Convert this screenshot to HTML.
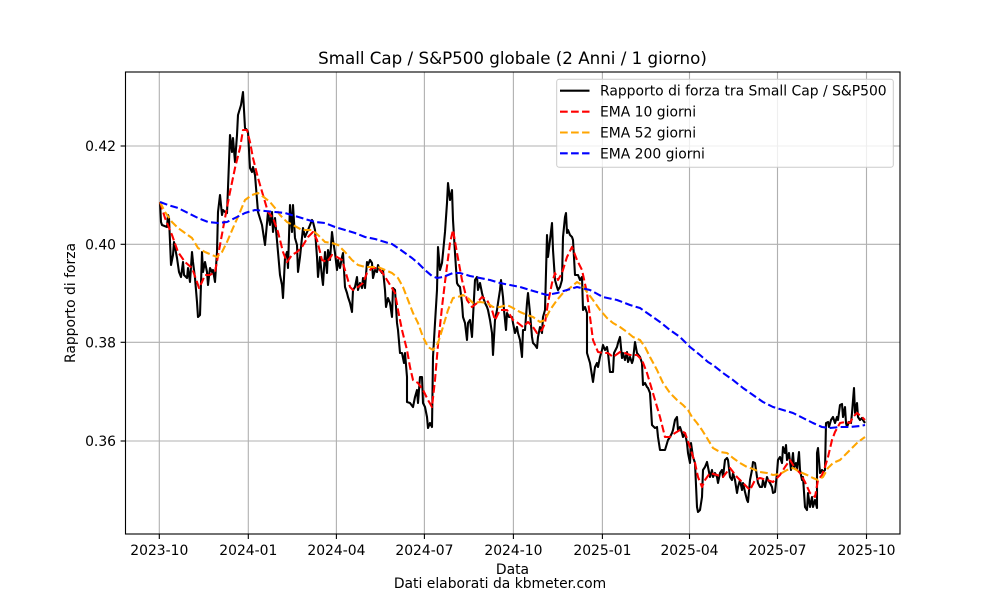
<!DOCTYPE html>
<html>
<head>
<meta charset="utf-8">
<style>
html,body{margin:0;padding:0;background:#fff;}
svg{display:block;}
text{font-family:"DejaVu Sans","Liberation Sans",sans-serif;fill:#000;}
</style>
</head>
<body>
<svg width="1000" height="600" viewBox="0 0 1000 600" xmlns="http://www.w3.org/2000/svg">
<rect x="0" y="0" width="1000" height="600" fill="#fff"/>
<!-- grid -->
<g stroke="#b0b0b0" stroke-width="1.11" fill="none">
<line x1="159.3" y1="72" x2="159.3" y2="534"/>
<line x1="248.3" y1="72" x2="248.3" y2="534"/>
<line x1="336.4" y1="72" x2="336.4" y2="534"/>
<line x1="424.4" y1="72" x2="424.4" y2="534"/>
<line x1="513.4" y1="72" x2="513.4" y2="534"/>
<line x1="602.4" y1="72" x2="602.4" y2="534"/>
<line x1="689.5" y1="72" x2="689.5" y2="534"/>
<line x1="777.5" y1="72" x2="777.5" y2="534"/>
<line x1="866.5" y1="72" x2="866.5" y2="534"/>
<line x1="125.5" y1="146" x2="900" y2="146"/>
<line x1="125.5" y1="244.3" x2="900" y2="244.3"/>
<line x1="125.5" y1="342.3" x2="900" y2="342.3"/>
<line x1="125.5" y1="441" x2="900" y2="441"/>
</g>
<!-- series -->
<g fill="none" stroke-linejoin="round" stroke-width="2.08">
<polyline stroke="#000" points="160,202 161,222 162,225 167,227 168,215 169,218 171,265 173,255 174,242 177,258 179,272 181,277 183,262 184,275 187,278 188,268 190,282 192,252 193,262 195,278 197,302 198,317 200,315 202,252 203,272 205,262 207,272 208,285 210,268 212,272 213,270 215,282 217,252 218,212 220,195 222,215 223,210 225,212 227,213 228,188 230,135 232,152 233,138 235,162 237,135 238,115 241,105 243,92 245,128 247,130 248,132 250,168 252,172 253,167 255,175 258,212 262,225 265,245 268,212 270,225 272,212 273,232 275,218 278,252 280,275 282,285 283,298 285,258 287,252 288,268 290,205 292,232 293,205 295,238 297,245 298,272 300,257 303,228 305,237 308,230 312,220 313,222 315,230 317,257 318,277 320,257 322,277 323,285 325,252 327,273 328,250 330,260 332,232 333,240 335,253 337,270 338,260 340,268 342,257 343,253 345,287 347,293 348,297 350,303 352,312 353,290 355,287 357,277 358,290 360,283 362,288 363,278 365,288 367,262 368,265 370,260 372,263 373,278 375,270 377,272 378,265 380,270 382,273 383,270 385,290 386,307 388,298 390,303 392,317 393,288 395,290 397,323 398,330 400,353 402,353 404,363 405,353 407,377 407,402 410,403 413,407 415,397 417,390 418,403 420,377 422,377 423,403 425,407 427,417 428,428 430,423 432,427 433,357 435,323 437,290 438,247 440,270 442,263 443,253 445,232 447,203 448,183 450,200 452,190 453,220 455,253 457,283 458,285 460,287 462,303 463,317 465,323 467,340 468,323 470,320 472,337 473,317 475,280 477,277 478,290 480,283 482,293 483,297 485,303 487,307 488,310 490,320 492,333 493,355 495,320 497,310 498,303 500,290 501,280 503,297 504,310 506,330 507,313 509,317 512,317 513,323 515,333 517,327 518,333 520,340 522,357 523,330 525,330 527,303 528,293 530,313 532,337 533,343 535,345 537,348 538,337 540,327 542,333 543,317 545,310 547,235 548,257 550,240 552,223 553,250 555,280 557,287 558,290 560,287 562,280 563,237 565,217 566,213 567,233 568,230 570,235 572,237 573,240 575,275 578,275 580,280 582,277 583,310 585,307 587,313 587,353 590,363 593,382 595,367 597,363 598,367 600,357 602,350 603,345 605,350 607,347 608,353 610,372 613,372 614,353 617,347 618,343 620,337 622,358 623,353 625,360 627,352 628,362 630,357 632,363 633,360 635,342 637,353 640,357 642,363 643,385 645,383 647,387 648,388 650,393 652,425 655,428 657,427 658,437 660,450 665,450 668,440 670,437 672,433 673,430 675,420 677,417 678,430 680,427 682,433 683,437 685,433 687,443 688,453 690,463 691,443 693,457 695,463 697,507 698,512 700,510 702,497 703,470 705,467 707,462 708,467 710,477 712,470 713,477 715,473 717,477 718,483 720,473 722,470 723,477 725,460 727,458 728,460 730,477 732,480 733,473 735,480 737,493 738,487 740,480 742,490 743,483 745,492 747,500 748,502 750,480 752,470 753,462 755,463 757,477 758,483 760,487 762,487 763,480 765,487 767,477 768,480 770,483 772,487 773,493 775,492 777,473 778,460 780,457 782,463 783,447 785,453 786,445 787,460 789,453 791,470 793,453 794,467 796,463 797,470 799,452 800,470 802,480 803,477 805,507 807,510 808,493 810,507 812,497 813,507 815,500 817,508 817,453 818,448 820,473 822,470 823,472 825,470 826,423 828,422 829,427 831,420 833,417 835,423 837,417 838,420 840,405 842,404 843,417 845,407 846,423 847,427 849,422 851,423 852,413 854,388 855,413 857,403 858,417 860,420 862,418 863,420 865,423"/>
<polyline stroke="#ff0000" stroke-dasharray="7.7,3.33" points="160,202 165,218 172,235 178,252 185,262 192,268 197,282 199,288 202,282 205,275 210,275 215,272 220,245 225,218 230,192 235,168 240,148 243,130 247,130 250,142 253,158 258,178 263,195 268,212 273,218 278,232 283,252 287,262 292,255 297,252 302,247 308,237 313,232 317,240 322,260 327,262 332,255 337,257 342,260 345,270 350,287 353,290 358,287 363,283 367,273 372,268 377,268 382,272 387,280 392,288 395,293 398,310 402,330 407,350 410,367 413,380 418,383 423,390 428,400 432,407 435,380 438,345 442,307 445,282 450,243 453,230 457,253 462,280 467,300 472,307 477,303 482,297 487,300 492,310 495,320 500,310 507,310 513,320 518,323 523,327 528,322 533,327 537,333 542,330 545,323 548,303 552,283 555,273 558,280 562,273 567,257 572,247 577,260 582,270 587,293 590,317 593,340 598,352 603,353 608,353 613,357 620,352 625,353 630,355 637,355 642,360 647,373 650,383 655,400 660,417 665,437 670,437 675,433 680,430 685,433 690,447 695,463 698,477 702,487 705,480 710,473 717,475 723,477 730,468 737,477 743,483 750,490 755,480 760,478 767,480 773,482 780,475 785,467 790,460 795,468 800,473 805,482 810,493 815,497 818,480 822,475 825,467 828,457 832,440 835,432 840,423 845,422 850,423 853,417 857,413 862,417 865,420"/>
<polyline stroke="#ffa500" stroke-dasharray="7.7,3.33" points="160,202 165,212 172,222 178,228 185,233 192,238 198,248 205,252 212,255 217,257 222,252 227,242 233,228 240,212 245,200 252,195 258,193 265,198 270,202 275,208 280,215 287,222 293,225 302,230 312,230 318,235 325,242 332,243 338,245 345,252 352,260 358,265 365,267 372,267 378,267 385,270 392,273 398,278 403,287 408,300 413,313 418,323 423,337 428,347 433,350 438,343 443,327 448,310 453,298 458,297 463,295 468,298 473,303 480,302 487,303 493,307 500,307 507,305 513,308 520,312 527,315 533,317 540,322 545,320 550,310 557,300 563,293 570,288 577,282 582,285 587,292 593,300 600,310 607,318 613,323 620,327 627,332 633,337 640,340 645,347 650,357 657,370 663,383 670,393 677,400 683,405 688,410 692,417 697,423 702,430 707,438 713,448 720,452 727,453 733,458 740,463 747,467 753,469 760,472 767,473 773,475 780,474 787,470 793,468 800,472 807,475 813,478 818,480 823,477 828,468 833,463 840,460 847,453 853,447 858,442 865,437"/>
<polyline stroke="#0000ff" stroke-dasharray="7.7,3.33" points="160,202 168,205 178,208 188,213 198,218 208,222 218,223 227,222 235,218 245,213 255,210 265,211 275,212 285,213 295,216 305,219 315,222 325,223 335,227 345,230 355,233 365,237 375,239 385,242 392,244 398,248 405,253 412,258 418,263 425,270 432,276 437,278 443,277 453,273 460,273 470,276 480,278 490,280 500,283 510,285 520,287 530,290 540,293 547,295 557,293 567,290 577,287 590,290 603,297 617,300 630,305 640,308 650,315 660,322 670,330 680,337 690,347 700,355 708,362 713,365 723,373 733,380 743,388 753,395 763,402 773,407 783,410 793,413 803,418 813,423 822,427 830,428 840,427 850,427 860,426 865,425"/>
</g>
<!-- spines -->
<rect x="125.5" y="72" width="774.5" height="462" fill="none" stroke="#000" stroke-width="1.11"/>
<!-- ticks -->
<g stroke="#000" stroke-width="1.11">
<line x1="159.3" y1="534" x2="159.3" y2="539"/>
<line x1="248.3" y1="534" x2="248.3" y2="539"/>
<line x1="336.4" y1="534" x2="336.4" y2="539"/>
<line x1="424.4" y1="534" x2="424.4" y2="539"/>
<line x1="513.4" y1="534" x2="513.4" y2="539"/>
<line x1="602.4" y1="534" x2="602.4" y2="539"/>
<line x1="689.5" y1="534" x2="689.5" y2="539"/>
<line x1="777.5" y1="534" x2="777.5" y2="539"/>
<line x1="866.5" y1="534" x2="866.5" y2="539"/>
<line x1="120.6" y1="146" x2="125.5" y2="146"/>
<line x1="120.6" y1="244.3" x2="125.5" y2="244.3"/>
<line x1="120.6" y1="342.3" x2="125.5" y2="342.3"/>
<line x1="120.6" y1="441" x2="125.5" y2="441"/>
</g>
<!-- tick labels -->
<g font-size="13.9" text-anchor="middle">
<text x="159.3" y="555">2023-10</text>
<text x="248.3" y="555">2024-01</text>
<text x="336.4" y="555">2024-04</text>
<text x="424.4" y="555">2024-07</text>
<text x="513.4" y="555">2024-10</text>
<text x="602.4" y="555">2025-01</text>
<text x="689.5" y="555">2025-04</text>
<text x="777.5" y="555">2025-07</text>
<text x="866.5" y="555">2025-10</text>
</g>
<g font-size="13.9" text-anchor="end">
<text x="116" y="151">0.42</text>
<text x="116" y="249.3">0.40</text>
<text x="116" y="347.3">0.38</text>
<text x="116" y="446">0.36</text>
</g>
<text x="512.5" y="574" font-size="13.9" text-anchor="middle">Data</text>
<text x="500" y="588" font-size="13.9" text-anchor="middle">Dati elaborati da kbmeter.com</text>
<text transform="translate(75,303) rotate(-90)" font-size="13.9" text-anchor="middle">Rapporto di forza</text>
<text x="512.5" y="64" font-size="16.7" text-anchor="middle">Small Cap / S&amp;P500 globale (2 Anni / 1 giorno)</text>
<!-- legend -->
<rect x="556.7" y="79.3" width="336.6" height="88" rx="2.5" ry="2.5" fill="#fff" fill-opacity="0.8" stroke="#cccccc" stroke-width="1"/>
<g stroke-width="2.08" fill="none">
<line x1="560" y1="90.7" x2="589.5" y2="90.7" stroke="#000"/>
<line x1="560" y1="111.7" x2="589.5" y2="111.7" stroke="#ff0000" stroke-dasharray="7.7,3.33"/>
<line x1="560" y1="132.5" x2="589.5" y2="132.5" stroke="#ffa500" stroke-dasharray="7.7,3.33"/>
<line x1="560" y1="153.3" x2="589.5" y2="153.3" stroke="#0000ff" stroke-dasharray="7.7,3.33"/>
</g>
<g font-size="13.9">
<text x="600" y="95.7">Rapporto di forza tra Small Cap / S&amp;P500</text>
<text x="600" y="116.7">EMA 10 giorni</text>
<text x="600" y="137.5">EMA 52 giorni</text>
<text x="600" y="158.3">EMA 200 giorni</text>
</g>
</svg>
</body>
</html>
